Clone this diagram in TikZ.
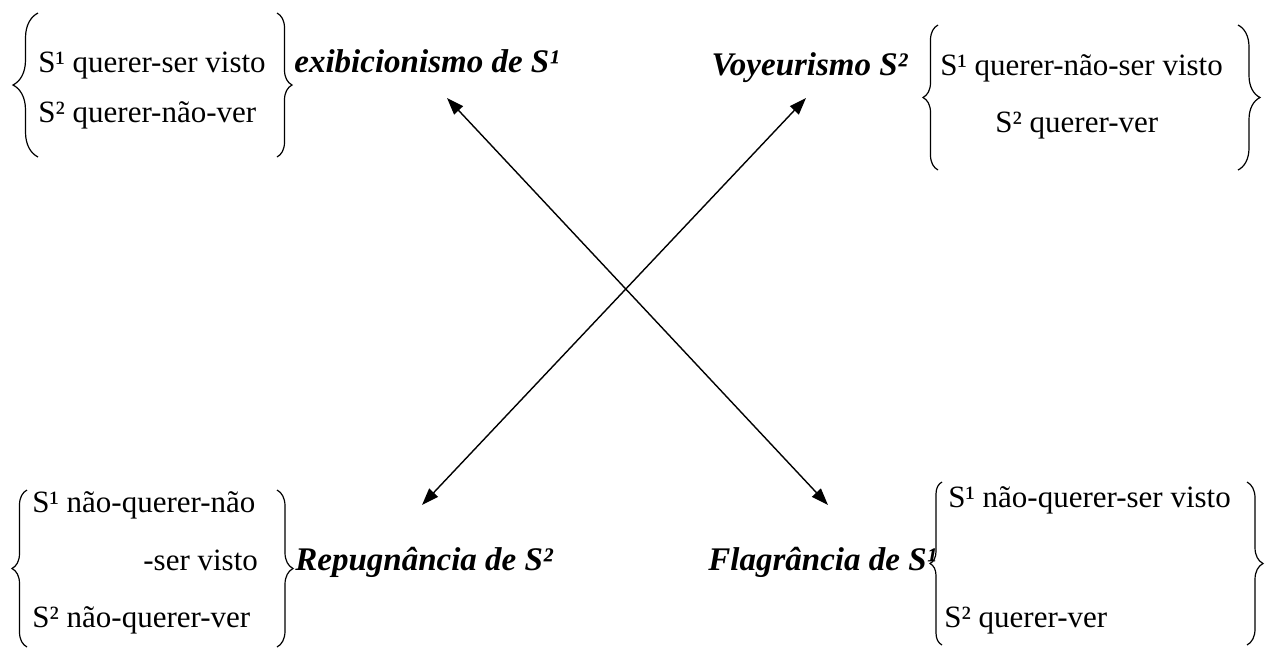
\documentclass[tikz,border=0pt]{standalone}
\usepackage{fontspec}
\setmainfont{Liberation Serif}
\usetikzlibrary{arrows.meta, decorations.pathreplacing}
\tikzset{
  txt/.style={anchor=base west, inner sep=0pt, font=\fontsize{15.5}{18}\selectfont},
  lab/.style={txt, font=\fontsize{16.5}{19}\selectfont\bfseries\itshape},
  brc/.style={draw, line width=0.6pt, decorate, decoration={brace, amplitude=#1}},
  brc/.default=8pt,
  tra/.style={{Triangle[length=8.5pt,width=6pt]}-{Triangle[length=8.5pt,width=6pt]}, line width=0.7pt}
}
\begin{document}
\begin{tikzpicture}[x=0.5pt, y=-0.5pt]
		\useasboundingbox (0,0) rectangle (1269,650);
		% top left
		\node[txt] (tl1) at (38,72) {S¹ querer-ser visto};
		\node[txt] (tl2) at (38,122) {S² querer-não-ver};
		\node[lab] (ex) at (294,72) {exibicionismo de S¹};
		\draw[brc=12.5pt] (38,157) -- (38,13);
		\draw[brc=7.5pt] (277,13) -- (277,157);
		% top right
		\node[lab, anchor=base east] (vo) at (908,75) {Voyeurismo S²};
		\node[txt] (tr1) at (940,75) {S¹ querer-não-ser visto};
		\node[txt] (tr2) at (995,132) {S² querer-ver};
		\draw[brc=7.5pt] (938,170) -- (938,25);
		\draw[brc=11pt] (1238,25) -- (1238,170);
		% bottom left
		\node[txt] (bl1) at (32,512) {S¹ não-querer-não};
		\node[txt] (bl2) at (143,570) {-ser visto};
		\node[txt] (bl3) at (32,627) {S² não-querer-ver};
		\node[lab] (re) at (295,570) {Repugnância de S²};
		\draw[brc=7.5pt] (27,647) -- (27,490);
		\draw[brc=8pt] (277,490) -- (277,647);
		% bottom right
		\node[lab] (fl) at (708,570) {Flagrância de S¹};
		\node[txt] (br1) at (948,507) {S¹ não-querer-ser visto};
		\node[txt] (br2) at (944,627) {S² querer-ver};
		\draw[brc=6pt] (942,645) -- (942,482);
		\draw[brc=8pt] (1247,482) -- (1247,645);
		% arrows
		\coordinate (exa) at (447,98);
		\coordinate (fla) at (828,505);
		\coordinate (voa) at (806,98);
		\coordinate (rea) at (422,505);
		\draw[tra] (exa) -- (fla);
		\draw[tra] (voa) -- (rea);
	\end{tikzpicture}
\end{document}
